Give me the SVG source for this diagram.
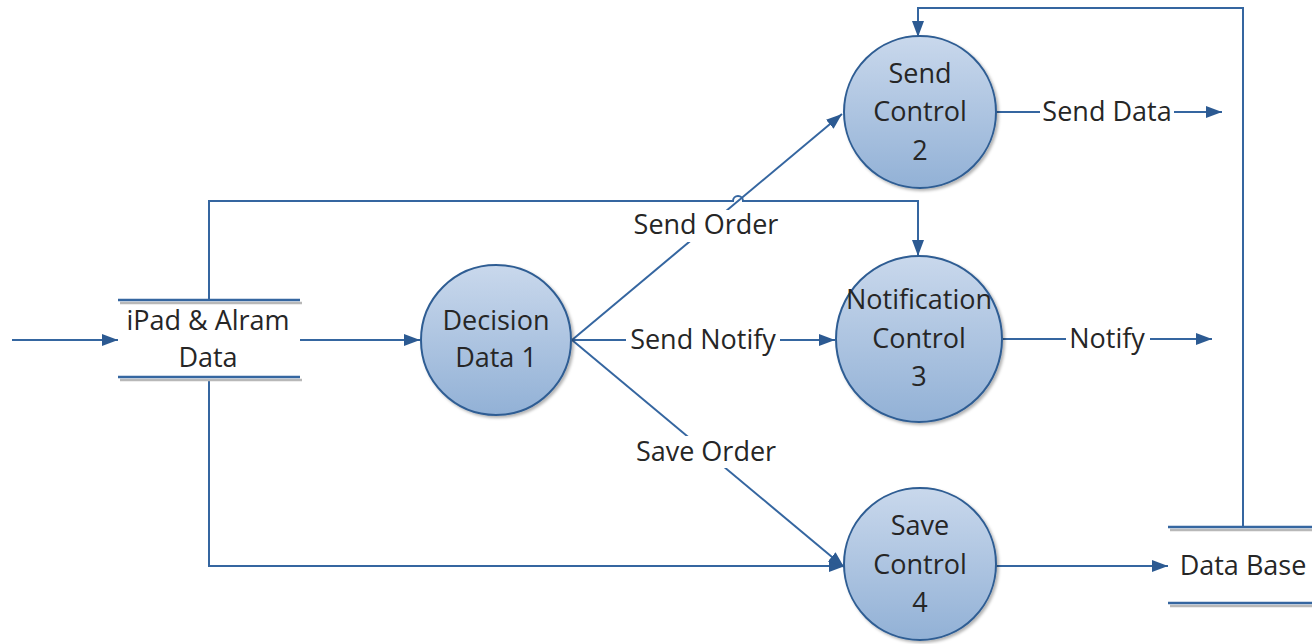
<svg xmlns="http://www.w3.org/2000/svg" width="1312" height="644" viewBox="0 0 1312 644">
  <style>
    .flow { fill: none; stroke: #3566a0; stroke-width: 2; }
    .store { stroke: #3566a0; stroke-width: 2.5; }
    .store-shadow { stroke: #b8b8b8; stroke-width: 2.5; }
    .proc { fill: url(#procFill); stroke: #2f5d93; stroke-width: 2; filter: url(#shadow); }
    text { font-family: "Open Sans", "Liberation Sans", sans-serif; font-size: 27px; fill: #262626; text-anchor: middle; }
    .gap { fill: #ffffff; }
  </style>
  <defs>
    <linearGradient id="procFill" x1="0" y1="0" x2="0" y2="1">
      <stop offset="0" stop-color="#c9d8ec"/>
      <stop offset="1" stop-color="#92b1d6"/>
    </linearGradient>
    <filter id="shadow" x="-20%" y="-20%" width="140%" height="140%">
      <feDropShadow dx="2" dy="2" stdDeviation="1.5" flood-color="#000000" flood-opacity="0.3"/>
    </filter>
    <marker id="arrow" viewBox="0 0 16 12" refX="16" refY="6" markerWidth="16" markerHeight="12" markerUnits="userSpaceOnUse" orient="auto">
      <path d="M0,0 L16,6 L0,12 Z" fill="#2c5a92"/>
    </marker>
  </defs>

  <!-- connectors -->
  <g id="connectors">
    <line class="flow" x1="12" y1="340" x2="118" y2="340" marker-end="url(#arrow)"/>
    <line class="flow" x1="300" y1="340" x2="420" y2="340" marker-end="url(#arrow)"/>
    <!-- store to Notification Control, with a hop over Send Order -->
    <path class="flow" d="M209,300 V201 H733 A5,5 0 0 1 743,201 H918 V256" marker-end="url(#arrow)"/>
    <!-- store to Save Control -->
    <path class="flow" d="M209,380 V566 H845" marker-end="url(#arrow)"/>
    <!-- Decision fan-out -->
    <line class="flow" x1="572" y1="340" x2="842" y2="114" marker-end="url(#arrow)"/>
    <line class="flow" x1="572" y1="340" x2="835" y2="340" marker-end="url(#arrow)"/>
    <line class="flow" x1="572" y1="340" x2="844" y2="567" marker-end="url(#arrow)"/>
    <!-- outputs -->
    <line class="flow" x1="996" y1="112" x2="1222" y2="112" marker-end="url(#arrow)"/>
    <line class="flow" x1="1003" y1="339" x2="1212" y2="339" marker-end="url(#arrow)"/>
    <line class="flow" x1="995" y1="566" x2="1168" y2="566" marker-end="url(#arrow)"/>
    <!-- Data Base back to Send Control -->
    <path class="flow" d="M1243,527 V8 H918 V37" marker-end="url(#arrow)"/>

    <!-- labels -->
    <rect class="gap" x="630" y="210" width="152" height="32"/>
    <text x="706" y="234">Send Order</text>
    <rect class="gap" x="626" y="324" width="154" height="32"/>
    <text x="703" y="349">Send Notify</text>
    <rect class="gap" x="632" y="436" width="148" height="32"/>
    <text x="706" y="461">Save Order</text>
    <rect class="gap" x="1040" y="96" width="134" height="32"/>
    <text x="1107" y="121">Send Data</text>
    <rect class="gap" x="1066" y="323" width="84" height="32"/>
    <text x="1107" y="348">Notify</text>
  </g>

  <!-- data store: iPad & Alram Data -->
  <g id="store-ipad">
    <line class="store-shadow" x1="120" y1="303" x2="302" y2="303"/>
    <line class="store" x1="118" y1="300" x2="300" y2="300"/>
    <line class="store-shadow" x1="120" y1="380" x2="302" y2="380"/>
    <line class="store" x1="118" y1="377" x2="300" y2="377"/>
    <text x="208" y="330">iPad &amp; Alram</text>
    <text x="208" y="367">Data</text>
  </g>

  <!-- process: Decision Data 1 -->
  <g id="proc-decision">
    <circle class="proc" cx="496" cy="340" r="75"/>
    <text x="496" y="330">Decision</text>
    <text x="496" y="367">Data 1</text>
  </g>

  <!-- process: Send Control 2 -->
  <g id="proc-send">
    <circle class="proc" cx="920" cy="112" r="76"/>
    <text x="920" y="83">Send</text>
    <text x="920" y="121">Control</text>
    <text x="920" y="160">2</text>
  </g>

  <!-- process: Notification Control 3 -->
  <g id="proc-notify">
    <circle class="proc" cx="919" cy="339" r="83"/>
    <text x="919" y="309">Notification</text>
    <text x="919" y="348">Control</text>
    <text x="919" y="386">3</text>
  </g>

  <!-- process: Save Control 4 -->
  <g id="proc-save">
    <circle class="proc" cx="920" cy="564" r="76"/>
    <text x="920" y="535">Save</text>
    <text x="920" y="574">Control</text>
    <text x="920" y="612">4</text>
  </g>

  <!-- data store: Data Base -->
  <g id="store-db">
    <line class="store-shadow" x1="1170" y1="530" x2="1312" y2="530"/>
    <line class="store" x1="1168" y1="527" x2="1312" y2="527"/>
    <line class="store-shadow" x1="1170" y1="606" x2="1312" y2="606"/>
    <line class="store" x1="1168" y1="603" x2="1312" y2="603"/>
    <text x="1243" y="575">Data Base</text>
  </g>
</svg>
